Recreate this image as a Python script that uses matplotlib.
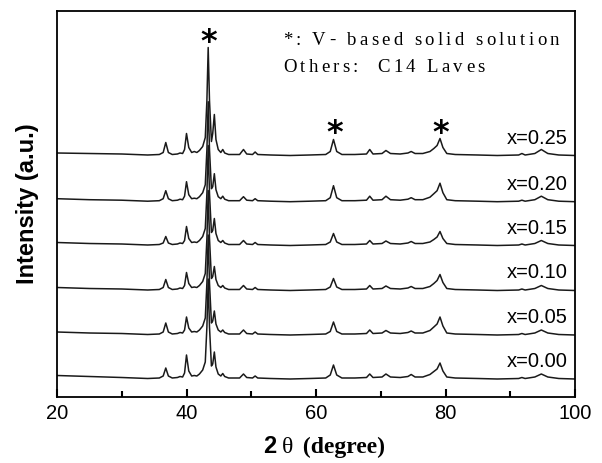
import matplotlib
matplotlib.use('Agg')
import matplotlib.pyplot as plt
from matplotlib.ticker import MultipleLocator
from matplotlib.textpath import TextToPath
from matplotlib.font_manager import FontProperties

# 2theta sample points (shared by all six traces)
two_theta = [20, 25, 30, 34, 35.8, 36.4, 36.8, 37.2, 37.8, 38.6,
             39.0, 39.4, 39.7, 40.0, 40.35, 40.8, 41.2, 41.6, 42.0, 42.5,
             42.9, 43.15, 43.35, 43.55, 43.85, 44.05, 44.3, 44.55, 44.9, 45.3,
             45.6, 45.9, 46.5, 48.2, 48.8, 49.3, 50.2, 50.6, 51.0, 53,
             56, 59, 61.5, 62.2, 62.7, 63.2, 64.0, 66, 67.8, 68.3,
             68.8, 70.2, 70.8, 71.5, 73, 74.2, 74.7, 75.3, 76.5, 77.6,
             78.2, 78.7, 79.15, 79.6, 80.2, 81.5, 85, 88, 91.3, 91.8,
             92.3, 93.8, 94.8, 95.8, 97.5, 100]

# intensity above each trace's own baseline (a.u.)
i_025 = [2.5, 2, 1.5, 0.5, 1, 3, 13, 3, 1, 1.5,
         2.5, 2, 6, 22, 8, 3, 4, 3, 5, 9,
         18, 55, 108, 55, 14, 22, 41, 16, 6, 3,
         6, 2.5, 1, 1, 6, 1.5, 1, 3.5, 1, 0.5,
         0, 0.5, 1, 4, 16, 4, 1, 1, 1.5, 6,
         1.5, 2, 5, 2, 1.5, 2.5, 4, 2, 2, 4,
         7, 10, 17, 8, 2, 1, 0.5, 0, 0.5, 2,
         0.5, 2, 6, 2, 0.5, 0]
i_020 = [3, 2, 1.5, 0.5, 1, 3, 11, 3, 1, 1.5,
         2.5, 2, 5.5, 20, 7, 3, 3.5, 3, 5, 9,
         17, 52, 100, 52, 13, 15, 28, 12, 5, 3,
         5.5, 2.5, 1, 1, 5, 1.5, 1, 3, 1, 0.5,
         0, 0.5, 1, 4, 16, 4, 1, 1, 1.5, 5.5,
         1.5, 2, 5.5, 2, 1.5, 2.5, 4, 2, 2, 4.5,
         8, 11, 18.5, 9, 2, 1, 0.5, 0, 0.5, 1.5,
         0.5, 2, 5.5, 2, 0.5, 0]
i_015 = [3, 2, 1.5, 0.5, 1, 2.5, 9, 2.5, 1, 1.5,
         2.5, 2, 5, 19, 7, 3, 3.5, 3, 5, 9,
         17, 52, 100, 52, 13, 15, 27, 12, 5, 3,
         5, 2.5, 1, 1, 5, 1.5, 1, 3, 1, 0.5,
         0, 0.5, 1, 3.5, 12, 3.5, 1, 1, 1.5, 5,
         1.5, 2, 4.5, 2, 1.5, 2.5, 4, 2, 2, 3.5,
         6, 8.5, 14, 7, 2, 1, 0.5, 0, 0.5, 1.5,
         0.5, 2, 5, 2, 0.5, 0]
i_010 = [3, 2, 1.5, 0.5, 1, 3, 11, 3, 1, 1.5,
         2.5, 2, 5, 18, 7, 3, 3.5, 3, 5, 9,
         17, 52, 100, 52, 12, 14, 24, 11, 5, 3,
         5, 2.5, 1, 1, 5, 1.5, 1, 3, 1, 0.5,
         0, 0.5, 1, 3.5, 12, 3.5, 1, 1, 1.5, 5,
         1.5, 2, 4.5, 2, 1.5, 2.5, 4, 2, 2, 4,
         7, 10, 16, 8, 2, 1, 0.5, 0, 0.5, 1.5,
         0.5, 2, 5, 2, 0.5, 0]
i_005 = [3, 2, 1.5, 0.5, 1, 3, 12, 3, 1, 1.5,
         2.5, 2, 5, 18, 7, 3, 3.5, 3, 5, 9,
         17, 52, 100, 52, 12, 14, 24, 11, 5, 3,
         5, 2.5, 1, 1, 5, 1.5, 1, 3, 1, 0.5,
         0, 0.5, 1, 3.5, 13, 3.5, 1, 1, 1.5, 5,
         1.5, 2, 4.5, 2, 1.5, 2.5, 4, 2, 2, 4.5,
         8, 11, 18, 9, 2, 1, 0.5, 0, 0.5, 1.5,
         0.5, 2, 5, 2, 0.5, 0]
i_000 = [3.5, 2.5, 1.5, 0.5, 1, 3, 11, 3, 1, 1.5,
         2.5, 2, 6, 24, 8, 3, 3.5, 3, 5, 9,
         17, 52, 100, 52, 13, 15, 27, 12, 5, 3,
         5.5, 2.5, 1, 1, 5, 1.5, 1, 3, 1, 0.5,
         0, 0.5, 1, 4, 14, 4, 1, 1, 1.5, 5,
         1.5, 2, 5, 2, 1.5, 2.5, 4.5, 2, 2, 4.5,
         7.5, 10, 16, 8, 2, 1, 0.5, 0, 0.5, 1.5,
         0.5, 2, 5, 2, 0.5, 0]

labels = ['x=0.00', 'x=0.05', 'x=0.10', 'x=0.15', 'x=0.20', 'x=0.25']
traces = [i_000, i_005, i_010, i_015, i_020, i_025]
offsets = [18, 62, 106.5, 151.5, 195.3, 241.5]

# V-based solid solution peaks marked with *
star_pos = [43.5, 62.9, 79.3]

fig = plt.figure(figsize=(6.02, 4.63), dpi=100)
ax = fig.add_axes([57/602, 1-397/463, 518/602, 386/463])

for y, off, lab in zip(traces, offsets, labels):
    ax.plot(two_theta, [v + off for v in y], color='#1a1a1a', lw=1.1)
    ax.text(98.9, off + 12, lab, ha='right', va='baseline',
            fontsize=14.5, family='Liberation Sans')

star_y = [346, 255, 255]
for sx, sy in zip(star_pos, star_y):
    ax.text(sx, sy, '*', ha='center', va='baseline', fontsize=23,
            fontweight='bold', family='DejaVu Sans')

# letter-spaced serif note, drawn one character at a time
ttp = TextToPath()
fp = FontProperties(family='Liberation Serif', size=13.5)
def spaced(x, y, s, extra=2.4):
    off = 0.0
    base = ttp.get_text_width_height_descent('xx', fp, ismath=False)[0]
    for ch in s:
        w = ttp.get_text_width_height_descent('x' + ch + 'x', fp, ismath=False)[0] - base
        if ch != ' ':
            ax.annotate(ch, xy=(x, y), xycoords='data', xytext=(off, 0),
                        textcoords='offset points', ha='left', va='baseline',
                        fontproperties=fp)
        off += w + extra

spaced(54.9, 352, '*: V- based solid solution')
spaced(54.9, 325, 'Others:  C14 Laves')

ax.set_xlim(20, 100)
ax.set_ylim(0, 386)
ax.xaxis.set_major_locator(MultipleLocator(20))
ax.xaxis.set_minor_locator(MultipleLocator(10))
ax.tick_params(axis='x', which='both', direction='in', top=False, width=1.5,
               labelsize=14.5, pad=5)
ax.tick_params(axis='x', which='major', length=6)
ax.tick_params(axis='x', which='minor', length=4)
for lab in ax.get_xticklabels():
    lab.set_family('Liberation Sans')
ax.set_yticks([])
for sp in ax.spines.values():
    sp.set_linewidth(1.3)

fig.text(28/602, 1-204/463, 'Intensity (a.u.)', rotation=90, ha='center',
         va='center', fontsize=17, fontweight='bold', family='Liberation Sans')

t1 = fig.text(263/602, 10/463, '2', ha='left', va='baseline', fontsize=17,
              fontweight='bold', family='Liberation Sans')
t2 = ax.annotate('\u03b8', xy=(1, 0), xycoords=t1, xytext=(4, 0),
                 textcoords='offset points', ha='left', va='bottom',
                 fontsize=17, family='Liberation Serif')
ax.annotate(' (degree)', xy=(1, 0), xycoords=t2, xytext=(3, 0),
            textcoords='offset points', ha='left', va='bottom',
            fontsize=17, fontweight='bold', family='Liberation Serif')

fig.savefig('out.png', dpi=100)
